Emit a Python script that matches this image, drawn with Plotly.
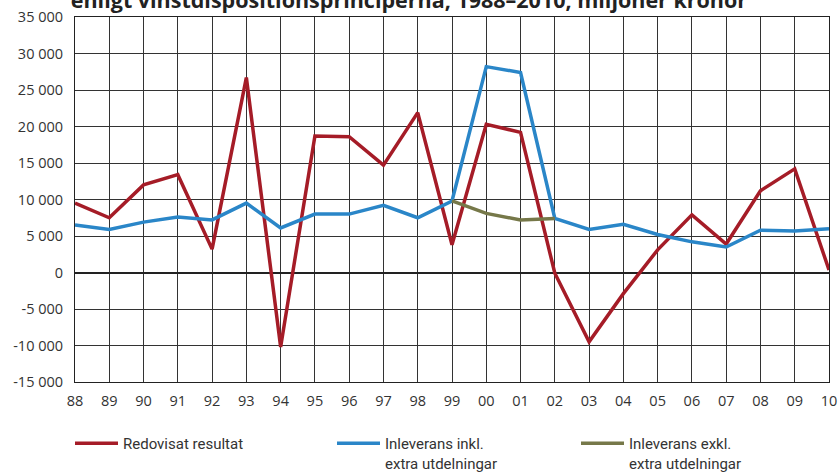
import plotly.graph_objects as go

years = ["88","89","90","91","92","93","94","95","96","97","98","99",
         "00","01","02","03","04","05","06","07","08","09","10"]
redovisat = [9500, 7500, 12000, 13400, 3200, 26700, -10200, 18700, 18600, 14700,
             21900, 3800, 20300, 19200, -100, -9500, -2900, 3100, 7900, 3900,
             11200, 14200, 350]
inkl = [6500, 5900, 6900, 7600, 7200, 9500, 6100, 8000, 8000, 9200, 7500, 9800,
        28200, 27400, 7400, 5900, 6600, 5200, 4200, 3500, 5800, 5700, 6000]
exkl_years = ["99", "00", "01", "02"]
exkl = [9800, 8100, 7200, 7400]
ytick_vals = [-15000, -10000, -5000, 0, 5000, 10000, 15000, 20000, 25000, 30000, 35000]
ytick_text = ["-15 000", "-10 000", "-5 000", "0", "5 000", "10 000", "15 000",
              "20 000", "25 000", "30 000", "35 000"]

xi = list(range(len(years)))
exkl_x = [years.index(y) for y in exkl_years]

fig = go.Figure()
fig.add_trace(go.Scatter(x=xi, y=redovisat, mode="lines", name="Redovisat resultat",
                         line=dict(color="#A51C27", width=3.5), legend="legend"))
fig.add_trace(go.Scatter(x=xi, y=inkl, mode="lines", name="Inleverans inkl.<br>extra utdelningar",
                         line=dict(color="#2A86C8", width=3.5), legend="legend2"))
fig.add_trace(go.Scatter(x=exkl_x, y=exkl, mode="lines", name="Inleverans exkl.<br>extra utdelningar",
                         line=dict(color="#767849", width=3.5), legend="legend3"))

legend_common = dict(orientation="h", xref="container", yref="container",
                     xanchor="left", y=1 - 427 / 472, yanchor="top",
                     itemwidth=43, valign="top",
                     font=dict(family="Roboto, sans-serif", size=15, color="#333333"))

fig.update_layout(
    width=838, height=472,
    margin=dict(l=75, r=9, t=17, b=90, autoexpand=False),
    paper_bgcolor="white", plot_bgcolor="white",
    font=dict(family="Open Sans, sans-serif", color="#333333", size=14),
    title=dict(text="<b>enligt vinstdispositionsprinciperna, 1988–2010, miljoner kronor</b>",
               x=0.488, xanchor="center", y=1.0, yanchor="middle", yref="container",
               font=dict(size=21.5, color="#222222", family="Open Sans, sans-serif")),
    xaxis=dict(range=[0, len(years) - 1], tickvals=xi, ticktext=years,
               showgrid=True, gridcolor="#333333", gridwidth=1,
               showline=True, linecolor="#222222", linewidth=1, mirror=True,
               zeroline=False, ticks="", tickfont=dict(size=14.5, color="#333333"),
               ticklabelstandoff=6, automargin=False),
    yaxis=dict(range=[-15000, 35000], tickvals=ytick_vals, ticktext=ytick_text,
               showgrid=True, gridcolor="#333333", gridwidth=1,
               showline=True, linecolor="#222222", linewidth=1, mirror=True,
               zeroline=True, zerolinecolor="#222222", zerolinewidth=1.5,
               ticks="", tickfont=dict(size=14.5, color="#333333"),
               ticklabelstandoff=8, automargin=False),
    showlegend=True,
    legend=dict(legend_common, x=70 / 838),
    legend2=dict(legend_common, x=332 / 838),
    legend3=dict(legend_common, x=576 / 838),
)

fig.write_html("out.html", config={"displayModeBar": False},
               post_script="document.body.style.margin='0';")
